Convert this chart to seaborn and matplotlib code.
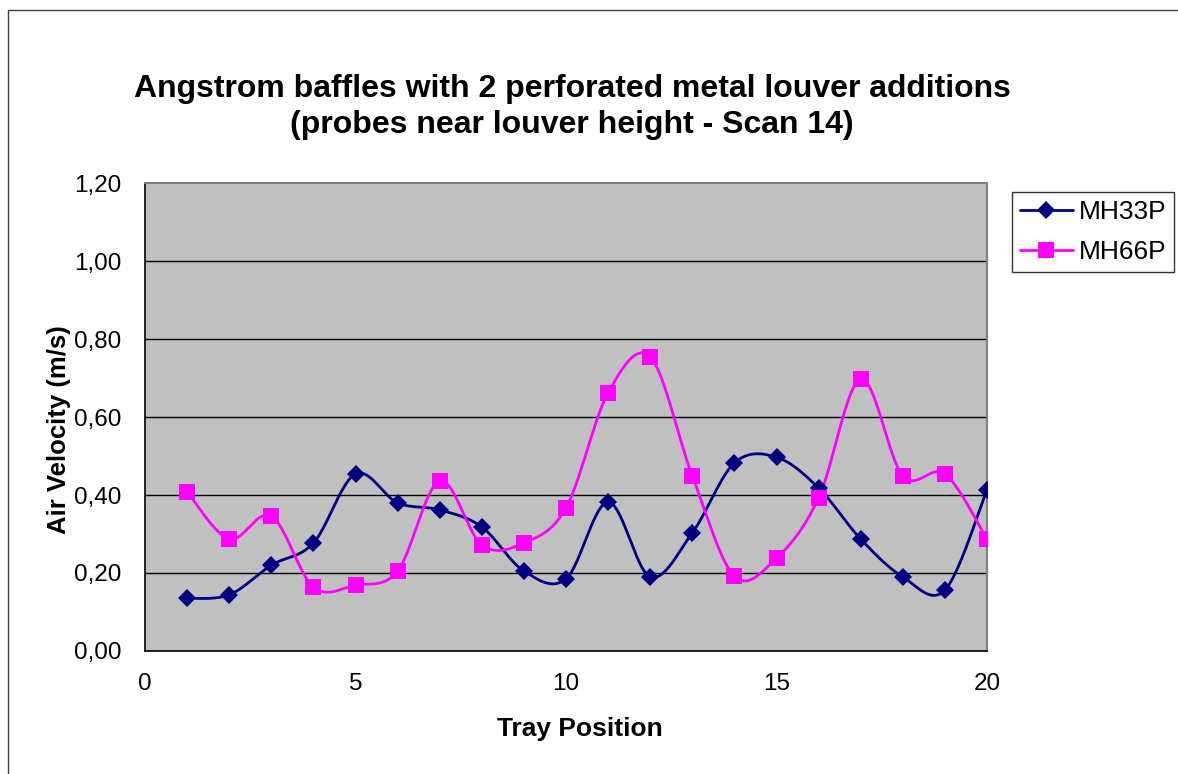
import numpy as np
import pandas as pd
import matplotlib
matplotlib.use("Agg")
import matplotlib.pyplot as plt
from matplotlib.lines import Line2D
from matplotlib.patches import Rectangle
import seaborn as sns

# Air velocity readings per tray position
tray = list(range(1, 21))
mh33p = [0.135, 0.144, 0.220, 0.277, 0.454, 0.380, 0.362, 0.318, 0.205, 0.185,
         0.382, 0.190, 0.303, 0.482, 0.497, 0.418, 0.287, 0.190, 0.156, 0.413]
mh66p = [0.408, 0.287, 0.346, 0.164, 0.169, 0.205, 0.436, 0.272, 0.277, 0.367,
         0.662, 0.754, 0.449, 0.192, 0.238, 0.392, 0.697, 0.449, 0.454, 0.287]
series_names = ["MH33P", "MH66P"]
y_ticks = [0.0, 0.2, 0.4, 0.6, 0.8, 1.0, 1.2]
x_ticks = [0, 5, 10, 15, 20]

NAVY = "#000080"
MAGENTA = "#FF00FF"

sns.set_style("white")
plt.rcParams["font.family"] = ["Liberation Sans", "DejaVu Sans"]
plt.rcParams["text.color"] = "#000000"
plt.rcParams["axes.labelcolor"] = "#000000"
plt.rcParams["xtick.color"] = "#000000"
plt.rcParams["ytick.color"] = "#000000"

W, H = 1178, 774


def smooth(xs, ys, n=40):
    """Catmull-Rom style Bezier smoothing through every point."""
    p = np.column_stack([xs, ys]).astype(float)
    ext = np.vstack([p[0], p, p[-1]])
    t = np.linspace(0, 1, n)[:, None]
    out = []
    for i in range(len(p) - 1):
        p0, p1, p2, p3 = ext[i], ext[i + 1], ext[i + 2], ext[i + 3]
        c1 = p1 + (p2 - p0) / 6.0
        c2 = p2 - (p3 - p1) / 6.0
        seg = ((1 - t) ** 3) * p1 + 3 * ((1 - t) ** 2) * t * c1 + 3 * (1 - t) * t ** 2 * c2 + t ** 3 * p2
        out.append(seg if i == 0 else seg[1:])
    out = np.vstack(out)
    return out[:, 0], out[:, 1]


fig = plt.figure(figsize=(W / 100, H / 100), dpi=100)
ax = fig.add_axes([145 / W, 1 - 651 / H, (987 - 145) / W, (651 - 183) / H])
ax.set_facecolor("#C0C0C0")

# outer chart frame
fig.patches.append(Rectangle((8 / W, -0.05), 1.1, 1 - 10 / H + 0.05,
                             transform=fig.transFigure, fill=False,
                             edgecolor="#404040", linewidth=1.0, zorder=0))

for v in y_ticks[1:-1]:
    ax.axhline(v, color="#000000", linewidth=1.0, zorder=1)

styles = [(mh33p, NAVY, "D", 9.5), (mh66p, MAGENTA, "s", 11)]
for name, (vals, col, mk, ms) in zip(series_names, styles):
    sx, sy = smooth(tray, vals)
    curve = pd.DataFrame({"x": sx, "y": sy})
    sns.lineplot(data=curve, x="x", y="y", sort=False, color=col,
                 linewidth=2.0, ax=ax, zorder=3)
    pts = pd.DataFrame({"x": tray, "y": vals})
    ax.plot(pts["x"], pts["y"], linestyle="none", marker=mk, markersize=ms,
            color=col, markeredgewidth=0, zorder=4)

ax.set_xlim(0, 20)
ax.set_ylim(0, 1.2)
ax.set_xticks(x_ticks)
ax.set_yticks(y_ticks)
ax.set_yticklabels([f"{v:.2f}".replace(".", ",") for v in y_ticks])
ax.tick_params(axis="y", direction="out", length=7, width=1, colors="#000000",
               labelsize=17.5, pad=10)
ax.tick_params(axis="x", direction="in", length=7, width=1, colors="#000000",
               labelsize=17.5, pad=16)
ax.set_xlabel("")
ax.set_ylabel("")

for side in ["left", "bottom"]:
    ax.spines[side].set_color("#000000")
    ax.spines[side].set_linewidth(1.2)
for side in ["top", "right"]:
    ax.spines[side].set_visible(True)
    ax.spines[side].set_color("#808080")
    ax.spines[side].set_linewidth(1.5)

fig.text(580 / W, 1 - 729 / H, "Tray Position", ha="center", va="center",
         fontsize=19, fontweight="bold")
fig.text(59 / W, 1 - 430 / H, "Air Velocity (m/s)", ha="center", va="center",
         rotation=90, fontsize=18.5, fontweight="bold")

fig.text(572 / W, 1 - 107 / H,
         "Angstrom baffles with 2 perforated metal louver additions\n(probes near louver height - Scan 14)",
         ha="center", va="center", fontsize=23, fontweight="bold", linespacing=1.3)

handles = [Line2D([0], [0], color=NAVY, marker="D", markersize=9.5, linewidth=2.0,
                  markeredgewidth=0),
           Line2D([0], [0], color=MAGENTA, marker="s", markersize=11, linewidth=2.0,
                  markeredgewidth=0)]
leg = fig.legend(handles, series_names, loc="upper left",
                 bbox_to_anchor=(1012 / W, 1 - 192 / H), fontsize=19,
                 frameon=True, fancybox=False, edgecolor="#000000",
                 handlelength=2.0, handletextpad=0.22, borderpad=0.3,
                 labelspacing=0.6, borderaxespad=0)
leg.get_frame().set_linewidth(1.0)

fig.savefig("out.png", dpi=100, facecolor="white")
